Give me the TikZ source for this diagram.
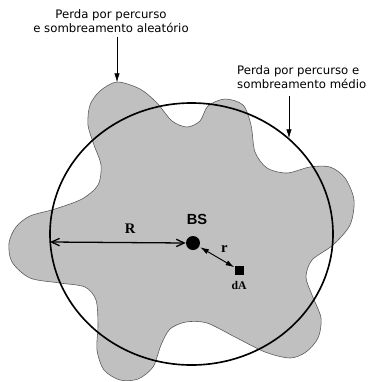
\documentclass[tikz,border=0pt]{standalone}
\usepackage{fontspec}
\setmainfont{DejaVu Sans}
\newfontfamily\labelserif{Liberation Serif}
\newfontfamily\labelsans{Liberation Sans}
\usepackage{tikz}
\usetikzlibrary{positioning,arrows.meta}
\definecolor{blobgrey}{RGB}{192,192,192}
\definecolor{edgegrey}{RGB}{90,90,90}

\begin{document}
\begin{tikzpicture}[x=0.03cm, y=-0.03cm, >={Latex[length=2.6mm,width=1.6mm]},
  caption/.style={font=\fontsize{10}{11.6}\selectfont, inner sep=0pt},
  serifbold/.style={font=\labelserif\bfseries\fontsize{12.5}{13}\selectfont}]
  \useasboundingbox (0,0) rectangle (368,382);
  % random shadowing area
  \fill[blobgrey, draw=edgegrey, line width=0.5pt] plot[smooth cycle] coordinates {
    (117,82) (140,89) (157,103) (172,121) (187,127) (200,121) (208,106)
    (225,99) (243,105) (251,125) (255,152) (267,168) (287,173) (310,167)
    (330,167) (345,178) (354,200) (350,225) (333,245) (312,260) (306,277)
    (312,295) (321,318) (318,338) (306,352) (290,358) (265,352) (235,337)
    (207,323) (186,322) (170,329) (161,345) (153,367) (138,379) (120,380)
    (104,370) (97,350) (98,325) (96,300) (85,287) (60,283) (30,278)
    (12,262) (9,243) (16,227) (30,216) (55,209) (82,199) (98,185)
    (101,165) (94,145) (88,125) (90,105) (100,91)};
  % mean shadowing circle
  \draw[line width=1.4pt] (191.5,234) ellipse [x radius=4.245cm, y radius=3.93cm];
  \coordinate (peak) at (117,82);
  \coordinate (hit) at (289,138);
  \coordinate (edge) at (50,242);
  % captions
  \node[caption, align=center] (aleat) at (111,21) {Perda por percurso\\e sombreamento aleatório};
  \node[caption, align=left, anchor=west] (medio) at (237,77) {Perda por percurso e\\sombreamento médio};
  \draw[->] (aleat.south -| peak) ++(0,4) -- (peak);
  \draw[->] (medio.south -| hit) ++(0,7) -- (hit);
  % base station and area element
  \node[circle, fill, inner sep=0pt, minimum size=0.42cm] (bs) at (193,243) {};
  \node[fill, inner sep=0pt, minimum size=0.27cm] (da) at (239,270) {};
  \node[font=\labelsans\bfseries\fontsize{12.5}{13}\selectfont] (bslabel) at (197,219) {BS};
  \node[serifbold, font=\labelserif\bfseries\fontsize{10}{11}\selectfont, below=2pt of da] (dalabel) {dA};
  \draw[line width=1.1pt, {Straight Barb[length=2.4mm,width=2.2mm]}-{Straight Barb[length=2.4mm,width=2.2mm]}] (edge) -- (bs.west)
     node[pos=0.59, above=4pt, serifbold] (rbig) {R};
  \draw[line width=0.8pt, <->, shorten <=1pt] (bs) -- (da)
     node[midway, above right=0pt and 0pt, serifbold] (rsmall) {r};
\end{tikzpicture}
\end{document}
